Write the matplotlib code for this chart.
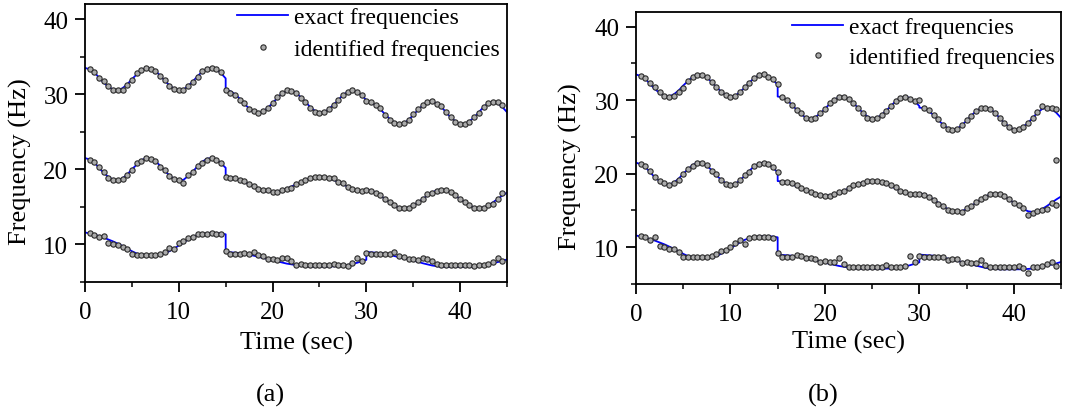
import numpy as np
import matplotlib
matplotlib.use("Agg")
import matplotlib.pyplot as plt
from matplotlib.ticker import MultipleLocator

plt.rcParams['font.family'] = ['Liberation Serif', 'DejaVu Serif']
plt.rcParams['mathtext.fontset'] = 'stix'

# ---------------- data ----------------
# exact frequencies, three segments (0-15, 15-30, 30-45 s), 0.5 s step
seg_starts = [0.0, 15.0, 30.0]
top_exact = [
    [33.5, 33.3, 32.9, 32.2, 31.5, 31.0, 30.6, 30.5, 30.8, 31.3, 32.0, 32.6, 33.2, 33.5, 33.4, 33.1,
     32.5, 31.8, 31.2, 30.7, 30.5, 30.6, 31.1, 31.7, 32.4, 33.0, 33.4, 33.5, 33.3, 32.8, 32.1],
    [30.5, 30.4, 30.0, 29.4, 28.7, 28.1, 27.6, 27.5, 27.7, 28.2, 28.8, 29.5, 30.1, 30.4, 30.5, 30.2,
     29.6, 29.0, 28.3, 27.8, 27.5, 27.6, 28.0, 28.6, 29.2, 29.9, 30.3, 30.5, 30.3, 29.9, 29.2],
    [29.0, 28.9, 28.5, 28.0, 27.3, 26.7, 26.2, 26.0, 26.1, 26.6, 27.2, 27.9, 28.5, 28.9, 29.0, 28.8,
     28.3, 27.6, 26.9, 26.4, 26.0, 26.0, 26.4, 26.9, 27.6, 28.3, 28.8, 29.0, 28.8, 28.3, 27.6],
]
mid_exact = [
    [21.5, 21.3, 20.9, 20.2, 19.5, 19.0, 18.6, 18.5, 18.8, 19.3, 20.0, 20.6, 21.2, 21.5, 21.4, 21.1,
     20.5, 19.8, 19.2, 18.7, 18.5, 18.6, 19.1, 19.7, 20.4, 21.0, 21.4, 21.5, 21.3, 20.8, 20.2],
    [19.0, 18.95, 18.8, 18.6, 18.3, 18.0, 17.7, 17.4, 17.2, 17.05, 17.0, 17.05, 17.2, 17.4, 17.7, 18.0,
     18.3, 18.6, 18.8, 18.95, 19.0, 18.95, 18.8, 18.6, 18.3, 18.0, 17.7, 17.4, 17.2, 17.05, 17.0],
    [17.3, 17.2, 16.9, 16.5, 16.05, 15.6, 15.2, 14.9, 14.8, 14.9, 15.2, 15.6, 16.05, 16.5, 16.9, 17.2,
     17.3, 17.2, 16.9, 16.5, 16.05, 15.6, 15.2, 14.9, 14.8, 14.9, 15.2, 15.6, 16.05, 16.5, 16.9],
]
bot_exact = [
    [11.6, 11.45, 11.3, 11.1, 10.9, 10.65, 10.4, 10.1, 9.8, 9.45, 9.1, 8.8, 8.65, 8.6, 8.6, 8.6,
     8.65, 8.8, 9.1, 9.45, 9.85, 10.25, 10.65, 11.0, 11.25, 11.4, 11.45, 11.5, 11.5, 11.45, 11.35],
    [9.0, 8.95, 8.9, 8.85, 8.75, 8.65, 8.5, 8.35, 8.2, 8.05, 7.9, 7.75, 7.6, 7.45, 7.35, 7.25,
     7.15, 7.1, 7.05, 7.05, 7.05, 7.05, 7.05, 7.1, 7.1, 7.15, 7.25, 7.4, 7.55, 7.75, 7.95],
    [9.0, 8.95, 8.9, 8.85, 8.75, 8.6, 8.45, 8.3, 8.15, 8.0, 7.85, 7.7, 7.5, 7.35, 7.2, 7.1,
     7.05, 7.0, 7.0, 7.0, 7.0, 7.0, 7.0, 7.05, 7.1, 7.2, 7.35, 7.5, 7.65, 7.8, 8.0],
]

# identified frequencies, t = 0.5 ... 44.5 s
top_a = [33.3, 32.9, 32.2, 31.7, 31.1, 30.6, 30.5, 30.6, 31.2, 31.9,
         32.8, 33.2, 33.5, 33.4, 33.1, 32.4, 31.9, 31.1, 30.7, 30.5,
         30.5, 31.1, 31.6, 32.3, 33.1, 33.4, 33.5, 33.3, 32.9, 30.6,
         30.2, 29.9, 29.2, 28.8, 28.0, 27.7, 27.5, 27.7, 28.1, 28.8,
         29.6, 30.1, 30.5, 30.4, 30.1, 29.5, 28.9, 28.2, 27.6, 27.5,
         27.6, 28.0, 28.6, 29.2, 29.9, 30.3, 30.5, 30.3, 29.9, 29.1,
         28.9, 28.6, 28.1, 27.2, 26.6, 26.2, 26.0, 26.1, 26.5, 27.3,
         28.0, 28.6, 28.9, 29.1, 28.7, 28.4, 27.6, 26.9, 26.3, 26.0,
         26.0, 26.3, 26.9, 27.5, 28.3, 28.8, 29.0, 28.9, 28.5]
mid_a = [21.3, 21.0, 20.3, 19.7, 18.9, 18.6, 18.6, 18.7, 19.2, 19.9,
         20.8, 21.1, 21.5, 21.4, 21.1, 20.3, 19.9, 19.1, 18.7, 18.6,
         18.2, 19.2, 19.6, 20.5, 20.9, 21.3, 21.5, 21.2, 20.9, 19.0,
         18.9, 18.9, 18.6, 18.4, 18.0, 17.8, 17.4, 17.3, 17.2, 17.0,
         17.0, 17.2, 17.4, 17.5, 18.0, 18.3, 18.6, 18.8, 18.95, 19.0,
         19.0, 18.9, 18.8, 18.3, 18.2, 17.7, 17.4, 17.3, 17.1, 17.3,
         17.1, 16.8, 16.6, 16.0, 15.6, 15.2, 14.9, 14.8, 14.8, 15.2,
         15.6, 16.1, 16.7, 16.9, 17.1, 17.3, 17.3, 17.0, 16.6, 16.1,
         15.7, 15.3, 14.9, 14.8, 14.8, 15.2, 15.4, 16.1, 16.9]
bot_a = [11.55, 11.2, 10.95, 11.1, 10.2, 10.1, 9.9, 9.65, 9.35, 8.75,
         8.65, 8.65, 8.65, 8.65, 8.65, 8.7, 9.0, 9.5, 9.4, 10.2,
         10.5, 10.85, 11.0, 11.4, 11.45, 11.45, 11.5, 11.45, 11.4, 9.1,
         8.7, 8.7, 8.7, 8.9, 8.75, 9.05, 8.55, 8.45, 8.1, 8.0,
         7.95, 8.25, 8.2, 7.75, 7.2, 7.45, 7.2, 7.2, 7.2, 7.2,
         7.2, 7.2, 7.35, 7.2, 7.2, 7.15, 7.5, 8.25, 7.8, 8.9,
         8.7, 8.7, 8.7, 8.7, 8.75, 9.05, 8.4, 8.3, 8.0, 8.1,
         7.9, 8.2, 8.1, 7.75, 7.45, 7.2, 7.2, 7.2, 7.2, 7.25,
         7.2, 7.2, 7.1, 7.2, 7.3, 7.4, 7.6, 8.2, 7.75]

top_b = [33.3, 33.0, 32.3, 31.8, 31.1, 30.6, 30.5, 30.6, 31.1, 31.7,
         32.6, 33.1, 33.4, 33.4, 33.2, 32.5, 31.8, 31.1, 30.7, 30.5,
         30.6, 31.1, 31.8, 32.4, 33.0, 33.4, 33.5, 33.2, 32.9, 32.2,
         30.4, 30.0, 29.3, 28.7, 28.2, 27.6, 27.5, 27.6, 28.2, 28.8,
         29.6, 30.0, 30.4, 30.5, 30.1, 29.6, 28.9, 28.2, 27.6, 27.5,
         27.6, 28.0, 28.6, 29.2, 29.9, 30.3, 30.5, 30.2, 29.9, 30.0,
         28.9, 28.7, 28.0, 27.4, 26.6, 26.1, 26.0, 26.1, 26.6, 27.3,
         27.9, 28.6, 28.9, 29.0, 28.8, 28.3, 27.6, 26.9, 26.4, 26.0,
         26.1, 26.4, 26.9, 27.6, 28.4, 29.2, 29.0, 28.9, 28.8]
mid_b = [21.3, 21.0, 20.4, 19.6, 19.0, 18.7, 18.5, 18.7, 19.2, 19.9,
         20.6, 21.1, 21.5, 21.4, 21.2, 20.4, 19.9, 19.1, 18.6, 18.5,
         18.6, 19.1, 19.8, 20.3, 21.0, 21.3, 21.5, 21.3, 20.9, 20.2,
         18.9, 18.85, 18.7, 18.4, 18.1, 17.8, 17.5, 17.2, 17.1, 17.0,
         17.0, 17.2, 17.5, 17.6, 18.1, 18.4, 18.6, 18.8, 18.95, 19.0,
         19.0, 18.9, 18.8, 18.4, 18.2, 17.7, 17.5, 17.3, 17.2, 17.3,
         17.1, 16.8, 16.4, 15.9, 15.6, 15.1, 14.9, 14.9, 14.8, 15.3,
         15.6, 16.1, 16.5, 16.9, 17.2, 17.3, 17.3, 17.0, 16.6, 16.0,
         15.7, 15.4, 14.4, 14.7, 14.9, 15.0, 15.2, 16.0, 15.7]
bot_b = [11.55, 11.35, 11.05, 11.35, 10.15, 10.1, 9.8, 9.7, 9.3, 8.65,
         8.65, 8.65, 8.65, 8.65, 8.65, 8.8, 9.1, 9.5, 9.6, 10.0,
         10.55, 11.0, 10.45, 11.3, 11.35, 11.4, 11.4, 11.35, 11.3, 9.2,
         8.65, 8.65, 8.65, 9.0, 8.75, 8.55, 8.5, 8.4, 7.95, 8.15,
         7.95, 7.95, 8.5, 7.75, 7.25, 7.25, 7.25, 7.25, 7.25, 7.25,
         7.25, 7.25, 7.6, 7.25, 7.25, 7.25, 7.5, 8.75, 7.95, 8.8,
         8.65, 8.65, 8.65, 8.65, 8.65, 8.2, 8.4, 8.35, 7.9, 7.95,
         7.85, 7.85, 8.3, 7.65, 7.3, 7.3, 7.3, 7.3, 7.3, 7.3,
         7.4, 7.2, 6.5, 7.3, 7.3, 7.4, 7.7, 8.0, 7.5]
extra_b_t = [44.5]
extra_b_f = [21.9]

x_ticks = [0, 10, 20, 30, 40]
y_ticks = [10, 20, 30, 40]
panel_labels = ['(a)', '(b)']
legend_labels = ['exact frequencies', 'identified frequencies']

# ---------------- plotting ----------------
W, H = 1076, 414
fig = plt.figure(figsize=(W / 100, H / 100), dpi=100)

def ax_rect(l, r, t, b):
    return [l / W, 1 - b / H, (r - l) / W, (b - t) / H]

axes = [fig.add_axes(ax_rect(85, 507, 5, 283)),
        fig.add_axes(ax_rect(636, 1061, 13, 285))]
ylab_pos = [(-0.154, 0.435), (-0.155, 0.434)]
xlab_pos = [(0.5, -0.216), (0.5, -0.213)]
leg_anchor = [(0.983, 0.99), (0.986, 0.982)]
leg_spacing = [0.45, 0.35]

t_ident = np.arange(0.5, 44.51, 0.5)
idents = [(top_a, mid_a, bot_a, [], []),
          (top_b, mid_b, bot_b, extra_b_t, extra_b_f)]

line_col = '#0000ff'
mk = dict(linestyle='none', marker='o', markersize=3.8, markerfacecolor='#ababab',
          markeredgecolor='#2a2a2a', markeredgewidth=0.8)

for i, (ax, (ta, ma, ba, et, ef)) in enumerate(zip(axes, idents)):
    first = True
    for curve in (top_exact, mid_exact, bot_exact):
        tt, ff = [], []
        for s0, seg in zip(seg_starts, curve):
            tt.extend(s0 + 0.5 * np.arange(len(seg)))
            ff.extend(seg)
        ax.plot(tt, ff, color=line_col, lw=1.3, label=legend_labels[0] if first else None, zorder=2)
        first = False
    first = True
    for vals in (ta, ma, ba):
        ax.plot(t_ident, vals, label=legend_labels[1] if first else None, zorder=3, **mk)
        first = False
    if et:
        ax.plot(et, ef, zorder=3, **mk)

    ax.set_xlim(0, 45)
    ax.set_ylim(5, 42)
    ax.set_xticks(x_ticks)
    ax.set_yticks(y_ticks)
    ax.xaxis.set_minor_locator(MultipleLocator(5))
    ax.yaxis.set_minor_locator(MultipleLocator(5))
    ax.tick_params(which='major', direction='out', length=7, width=1.3, labelsize=18)
    ax.tick_params(axis='x', which='major', pad=6.5)
    ax.tick_params(axis='y', which='major', pad=5.0)
    ax.tick_params(which='minor', direction='out', length=3.5, width=1.1)
    ax.tick_params(top=False, right=False)
    for sp in ax.spines.values():
        sp.set_linewidth(1.3)
    ax.set_xlabel('Time (sec)', fontsize=19)
    ax.set_ylabel('Frequency (Hz)', fontsize=19)
    ax.xaxis.label.set_verticalalignment('center')
    ax.yaxis.label.set_verticalalignment('center')
    ax.xaxis.set_label_coords(*xlab_pos[i])
    ax.yaxis.set_label_coords(*ylab_pos[i])
    ax.legend(loc='upper right', bbox_to_anchor=leg_anchor[i], frameon=False,
              fontsize=17, handlelength=2.15, handletextpad=0.26, labelspacing=leg_spacing[i],
              numpoints=1, borderaxespad=0.0, borderpad=0.0)

fig.text(270 / W, 1 - 395 / H, panel_labels[0], fontsize=19, ha='center', va='center')
fig.text(823 / W, 1 - 395 / H, panel_labels[1], fontsize=19, ha='center', va='center')

fig.savefig('out.png', dpi=100)
